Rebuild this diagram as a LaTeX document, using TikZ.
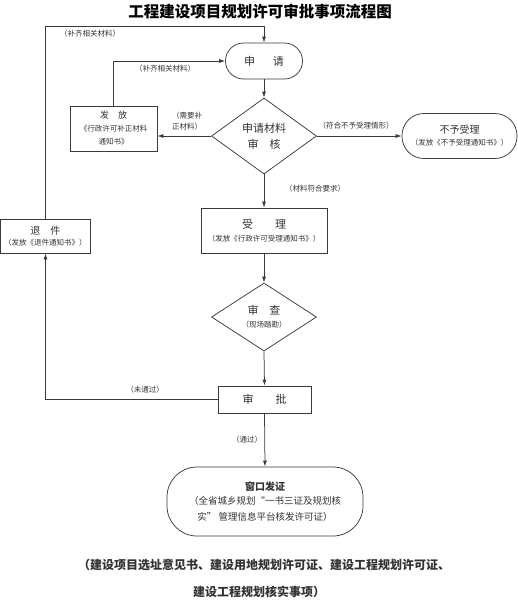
\documentclass[tikz,border=0pt]{standalone}
\usepackage{fontspec}
\setmainfont{Noto Sans CJK SC}
\usepackage{tikz}
\usetikzlibrary{shapes,shapes.geometric,arrows.meta,positioning,calc}
\definecolor{flowLine}{HTML}{3A3A3A}
\definecolor{flowText}{HTML}{333333}
\tikzset{
    flowBoxBase/.style={
        rectangle,
        draw=flowLine,
        line width=0.75pt,
        align=center,
        text=flowText,
        inner sep=2pt,
        font=\fontsize{11}{16}\selectfont
    },
    % Shape variants
    stepBox/.style={flowBoxBase},
    roundBox/.style={flowBoxBase, rounded corners=#1},
    checkDiamond/.style={flowBoxBase, diamond, inner sep=0pt},
    % Arrows and labels
    flowArrow/.style={-{Latex[length=6pt,width=4pt]}, line width=0.75pt, draw=flowLine},
    flowLabel/.style={font=\fontsize{7.5}{12}\selectfont, text=flowText, align=center, inner sep=1pt},
    noteText/.style={font=\fontsize{12}{16}\selectfont\bfseries, text=flowText}
}
\begin{document}
\begin{tikzpicture}[x=1pt, y=-1pt]
\useasboundingbox (0,0) rectangle (518,600);

\node[font=\fontsize{15.5}{18}\selectfont\bfseries] (title) at (260,12) {工程建设项目规划许可审批事项流程图};

% main column
\node[roundBox=18pt, minimum width=77pt, minimum height=36pt] (apply) at (264,61) {申\hspace{1.6em}请};
\node[checkDiamond, minimum width=105pt, minimum height=76pt] (check) at (264,136) {申请材料\\审\hspace{1em}核};
\node[stepBox, minimum width=126pt, minimum height=45pt] (accept) at (264,230.5) {受\hspace{2em}理\\[-3pt]{\fontsize{7.5}{10}\selectfont （发放《行政许可受理通知书》）}};
\node[checkDiamond, minimum width=105pt, minimum height=68pt] (inspect) at (264,317) {审\hspace{1em}查\\[-3pt]{\fontsize{7.5}{10}\selectfont （现场踏勘）}};
\node[stepBox, minimum width=93pt, minimum height=27pt] (approve) at (264.5,399.5) {审\hspace{2em}批};
\node[roundBox=30pt, minimum width=196pt, minimum height=69pt] (issue) at (265,501.5) {{\bfseries\fontsize{10}{14}\selectfont 窗口发证}\\[-2pt]{\fontsize{9.5}{14}\selectfont （全省城乡规划“一书三证及规划核}\\{\fontsize{9.5}{12}\selectfont 实” 管理信息平台核发许可证）}};

% side boxes
\node[stepBox, minimum width=87pt, minimum height=45pt, font=\fontsize{9}{13}\selectfont] (notice) at (113.5,128.5) {发\hspace{1em}放\\{\fontsize{7.5}{12}\selectfont 《行政许可补正材料}\\{\fontsize{7.5}{12}\selectfont 通知书》}};
\node[roundBox=22pt, minimum width=115pt, minimum height=45pt, font=\fontsize{10}{14}\selectfont] (reject) at (459.5,136) {不予受理\\[-2pt]{\fontsize{7.5}{10}\selectfont （发放《不予受理通知书》）}};
\node[stepBox, minimum width=90pt, minimum height=34pt, font=\fontsize{10}{13}\selectfont] (returnDoc) at (45.5,236) {退\hspace{1em}件\\[-2pt]{\fontsize{7.5}{10}\selectfont （发放《退件通知书》）}};

\coordinate (topTurn) at (264,26);

% connectors
\draw[flowArrow] (apply.south) -- (check.north);
\draw[flowArrow] (check.south) -- (accept.north);
\draw[flowArrow] (accept.south) -- (inspect.north);
\draw[flowArrow] (inspect.south) -- (approve.north);
\draw[flowArrow] (approve.south) -- (issue.north);
\draw[flowArrow] (check.west) -- (check.west -| notice.east);
\draw[flowArrow] (check.east) -- (reject.west);
\draw[flowArrow] (notice.north) |- (apply.west);
\draw[flowArrow] (returnDoc.north) |- (topTurn) -- (apply.north);
\draw[flowArrow] (approve.west) -| (returnDoc.south);

% connector labels
\node[flowLabel] (lblTop) at (90,34) {（补齐相关材料）};
\node[flowLabel] (lblSupply) at (165,69) {（补齐相关材料）};
\node[flowLabel, font=\fontsize{7.5}{11}\selectfont] (lblNeed) at (187,121) {（需要补\\正材料）};
\node[flowLabel] (lblReject) at (356,125.5) {（符合不予受理情形）};
\node[flowLabel] (lblOk) at (315,189) {（材料符合要求）};
\node[flowLabel] (lblFail) at (145,390) {（未通过）};
\node[flowLabel] (lblPass) at (247,440) {（通过）};

% footnote
\node[noteText] (noteA) at (264,565) {（建设项目选址意见书、建设用地规划许可证、建设工程规划许可证、};
\node[noteText] (noteB) at (259,592) {建设工程规划核实事项）};
\end{tikzpicture}
\end{document}
